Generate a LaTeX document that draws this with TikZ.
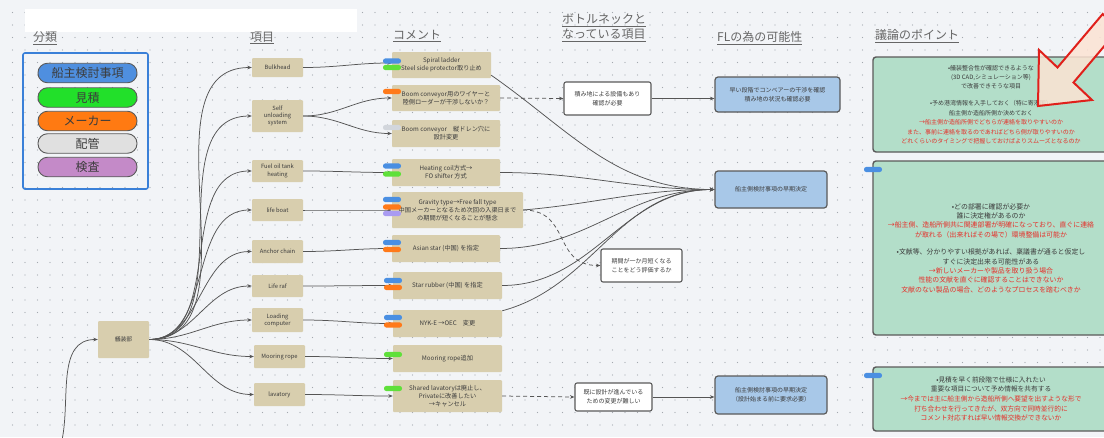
\documentclass[tikz,border=0pt]{standalone}
\usepackage{fontspec}
\setmainfont{Noto Sans CJK JP}
\usetikzlibrary{arrows.meta,calc}

\definecolor{bgc}{HTML}{F2F4F7}
\definecolor{dotc}{HTML}{A3A8AF}
\definecolor{tanc}{HTML}{D8CEAE}
\definecolor{flc}{HTML}{A8C8E8}
\definecolor{gpc}{HTML}{B3DEC9}
\definecolor{edgec}{HTML}{5A5A5A}
\definecolor{linec}{HTML}{555555}
\definecolor{hdc}{HTML}{666666}
\definecolor{txc}{HTML}{3C3C3C}
\definecolor{redt}{HTML}{E5302A}
\definecolor{tblue}{HTML}{4A8FE2}
\definecolor{tgreen}{HTML}{5FE03A}
\definecolor{torange}{HTML}{FF7A1A}
\definecolor{tgrey}{HTML}{D2D6DC}
\definecolor{tlav}{HTML}{A99BF2}
\definecolor{lblue}{HTML}{4F8FDF}
\definecolor{lgreen}{HTML}{22E02A}
\definecolor{lorange}{HTML}{FF7A12}
\definecolor{lgrey}{HTML}{E0E0E0}
\definecolor{lpurple}{HTML}{C48AC8}
\definecolor{frameblue}{HTML}{3A80D8}
\definecolor{arrowred}{HTML}{E0201B}
\definecolor{arrowfill}{HTML}{FCE3D3}

\newcommand\tagpill[3]{\fill[#1, rounded corners=2.4] (#2-9,#3-2.6) rectangle (#2+9,#3+2.6);}

\begin{document}
\begin{tikzpicture}[x=1pt,y=-1pt,
  hdg/.style={anchor=west, text=hdc, font=\fontsize{12}{15}\selectfont, inner sep=0, align=left},
  pill/.style={draw=edgec, line width=0.9, rounded corners=9.5, minimum width=99, minimum height=19.5,
    inner sep=0, text=txc, font=\fontsize{12}{14}\selectfont},
  item/.style={fill=tanc, rounded corners=1, inner sep=1, align=center, text=txc,
    font=\fontsize{5.8}{7.2}\selectfont},
  cmt/.style={fill=tanc, rounded corners=1, inner sep=1, align=center, text=txc,
    font=\fontsize{6.2}{8}\selectfont},
  neck/.style={fill=white, draw=edgec, line width=1.1, rounded corners=2, inner sep=1, align=center,
    text=txc, font=\fontsize{6}{9}\selectfont},
  flbox/.style={fill=flc, draw=edgec, line width=1.2, rounded corners=3, inner sep=1, align=center,
    text=txc, font=\fontsize{6}{9}\selectfont},
  gbox/.style={fill=gpc, draw=edgec, line width=1.4, rounded corners=3, inner sep=1, align=center,
    text=txc},
  conn/.style={draw=linec, line width=0.75, -{Stealth[length=4.5,width=3.6]}},
  dconn/.style={conn, dash pattern=on 4 off 3}
]
\useasboundingbox (0,0) rectangle (1104,437);
\fill[bgc] (0,0) rectangle (1104,437);

% dotted canvas
\foreach \i in {1,...,88}{
  \foreach \j in {1,...,34}{
    \fill[dotc] (\i*12.5,\j*12.5) circle (0.6);
  }
}
\fill[white] (25,9) rectangle (357,32);

% column headings
\node[hdg] (h1) at (33,38) {\underline{分類}};
\node[hdg] (h2) at (250,38) {\underline{項目}};
\node[hdg] (h3) at (393,36) {\underline{コメント}};
\node[hdg] (h4) at (562,28) {\underline{ボトルネックと}\\\underline{なっている項目}};
\node[hdg] (h5) at (717,38) {\underline{FLの為の可能性}};
\node[hdg] (h6) at (875,36) {\underline{議論のポイント}};

% legend
\node[draw=frameblue, line width=1.6, rounded corners=2, minimum width=125, minimum height=136, inner sep=0]
  (legend) at (85.5,121) {};
\node[pill, fill=lblue] (lg1) at (87.5,73) {船主検討事項};
\node[pill, fill=lgreen] (lg2) at (87.5,97.5) {見積};
\node[pill, fill=lorange] (lg3) at (87.5,121) {メーカー};
\node[pill, fill=lgrey] (lg4) at (87.5,143.5) {配管};
\node[pill, fill=lpurple] (lg5) at (87.5,167) {検査};

% items
\node[item, minimum width=51, minimum height=37] (hull) at (123.5,339.5) {艤装部};
\node[item, minimum width=51, minimum height=19] (bulk) at (277.5,67.5) {Bulkhead};
\node[item, minimum width=51, minimum height=32] (selfu) at (277.5,116) {Self\\unloading\\system};
\node[item, minimum width=51, minimum height=22] (fuel) at (277.5,171) {Fuel oil tank\\heating};
\node[item, minimum width=51, minimum height=22] (lboat) at (277.5,210) {life boat};
\node[item, minimum width=51, minimum height=23] (anchor) at (277.5,251.5) {Anchor chain};
\node[item, minimum width=51, minimum height=22] (raft) at (277.5,286) {Life raf};
\node[item, minimum width=51, minimum height=24] (loadc) at (277.5,320) {Loading\\computer};
\node[item, minimum width=51, minimum height=23] (moor) at (279.5,356.5) {Mooring rope};
\node[item, minimum width=51, minimum height=23] (lav) at (279.5,394.5) {lavatory};

% comments
\node[cmt, minimum width=99, minimum height=26] (c1) at (441.5,65) {Spiral ladder\\Steel side protector取り止め};
\node[cmt, minimum width=108, minimum height=26] (c2) at (446,98) {Boom conveyor用のワイヤーと\\陸側ローダーが干渉しないか？};
\node[cmt, minimum width=108, minimum height=27] (c3) at (446,133.5) {Boom conveyor　縦ドレン穴に\\設計変更};
\node[cmt, minimum width=108, minimum height=27] (c4) at (446,172.5) {Heating coil方式→\\FO shifter 方式};
\node[cmt, minimum width=131, minimum height=36] (c5) at (457.5,210) {Gravity type→Free fall type\\中国メーカーとなるため次回の入渠日まで\\の期間が短くなることが懸念};
\node[cmt, minimum width=108, minimum height=27] (c6) at (446,248.5) {Asian star (中国) を指定};
\node[cmt, minimum width=109, minimum height=27] (c7) at (447.5,285.5) {Star rubber (中国) を指定};
\node[cmt, minimum width=109, minimum height=27] (c8) at (447.5,323.5) {NYK-E →OEC　変更};
\node[cmt, minimum width=109, minimum height=27] (c9) at (447.5,358.5) {Mooring rope追加};
\node[cmt, minimum width=109, minimum height=32] (c10) at (447.5,396) {Shared lavatoryは廃止し、\\Privateに改善したい\\→キャンセル};

% connectors: hull to items
\coordinate (feed) at (62,440);
\draw[conn] (feed) to[out=78,in=180] (hull.west);
\foreach \t in {bulk,selfu,fuel,lboat,anchor,raft,loadc,moor,lav}{
  \draw[conn] (hull.east) to[out=0,in=180] (\t.west);
}
% items to comments
\draw[conn] (bulk.east) to[out=0,in=180] ([yshift=2]c1.west);
\draw[conn] (selfu.east) to[out=0,in=180] (c2.west);
\draw[conn] (selfu.east) to[out=0,in=180] (c3.west);
\draw[conn] (fuel.east) to[out=0,in=180] (c4.west);
\draw[conn] (lboat.east) to[out=0,in=180] (c5.west);
\draw[conn] (anchor.east) to[out=0,in=180] (c6.west);
\draw[conn] (raft.east) to[out=0,in=180] (c7.west);
\draw[conn] (loadc.east) to[out=0,in=180] (c8.west);
\draw[conn] (moor.east) to[out=0,in=180] (c9.west);
\draw[conn] (lav.east) to[out=0,in=180] (c10.west);

% bottleneck boxes
\node[neck, minimum width=87, minimum height=33] (b1) at (607.5,98.5) {積み地による設備もあり\\確認が必要};
\node[neck, minimum width=81, minimum height=33] (b2) at (641.5,265.5) {期間が一か月短くなる\\ことをどう評価するか};
\node[neck, minimum width=77, minimum height=28] (b3) at (613.5,397) {既に設計が進んでいる\\ための変更が難しい};

% FL boxes
\node[flbox, minimum width=125, minimum height=35] (f1) at (777.5,94.5) {早い段階でコンベアーの干渉を確認\\積み地の状況も確認必要};
\node[flbox, minimum width=112, minimum height=37] (f2) at (771,189.5) {船主側検討事項の早期決定};
\node[flbox, minimum width=112, minimum height=38] (f3) at (771,395) {船主側検討事項の早期決定\\（設計始まる前に要求必要）};

% comments to bottlenecks and FL
\draw[conn] ($(c1.south east)+(0,-3)$) to[out=-35,in=180] (f2.west);
\draw[conn] (c4.east) to[out=0,in=180] (f2.west);
\draw[conn] (c5.east) to[out=5,in=180] (f2.west);
\draw[conn] (c6.east) to[out=0,in=180] (f2.west);
\draw[conn] (c7.east) to[out=0,in=180] (f2.west);
\draw[conn] ($(c8.north east)+(0,1)$) to[out=15,in=180] (f2.west);
\draw[dconn] (c2.east) -- (b1.west);
\draw[dconn] (c5.east) to[out=0,in=180,looseness=1.3] (b2.west);
\draw[dconn] (c10.east) -- (b3.west);
\draw[conn] (b1.east) -- (f1.west |- b1.east);
\draw[conn] (b3.east) -- (f3.west |- b3.east);

% category tags on comments
\tagpill{tblue}{392}{61}
\tagpill{tgreen}{392}{67.5}
\tagpill{torange}{392}{91.5}
\tagpill{tgrey}{392}{127.5}
\tagpill{tblue}{392}{166}
\tagpill{tgreen}{392}{174}
\tagpill{tblue}{392}{199.5}
\tagpill{torange}{392}{207}
\tagpill{tlav}{392}{213.5}
\tagpill{tblue}{392}{242.5}
\tagpill{torange}{392}{249.5}
\tagpill{tblue}{393}{280.5}
\tagpill{torange}{393}{287.5}
\tagpill{tblue}{393}{317.5}
\tagpill{torange}{393}{325}
\tagpill{tgreen}{393}{354.5}
\tagpill{tgreen}{393}{388.5}

% discussion boxes
\node[gbox, minimum width=236, minimum height=95, font=\fontsize{6}{9.4}\selectfont] (g1) at (991,104.5) {%
•艤装整合性が確認できるような\\
(3D CAD,シミュレーション等)\\
で改善できそうな項目\\[7.5]
•予め港湾情報を入手しておく（特に寄港国）\\
船主側か造船所側か決めておく\\
\textcolor{redt}{→船主側か造船所側でどちらが連絡を取りやすいのか}\\
\textcolor{redt}{また、事前に連絡を取るのであればどちら側が取りやすいのか}\\
\textcolor{redt}{どれくらいのタイミングで把握しておけばよりスムーズとなるのか}};
\node[gbox, minimum width=236, minimum height=174, font=\fontsize{6.9}{9.4}\selectfont] (g2) at (991,248) {%
•どの部署に確認が必要か\\
誰に決定権があるのか\\
\textcolor{redt}{→船主側、造船所側共に関連部署が明確になっており、直ぐに連絡}\\
\textcolor{redt}{が取れる（出来ればその場で）環境整備は可能か}\\[8]
•文献等、分かりやすい根拠があれば、稟議書が通ると仮定し\\
すぐに決定出来る可能性がある\\
\textcolor{redt}{→新しいメーカーや製品を取り扱う場合}\\
\textcolor{redt}{性能の文献を直ぐに確認することはできないか}\\
\textcolor{redt}{文献のない製品の場合、どのようなプロセスを踏むべきか}};
\node[gbox, minimum width=236, minimum height=64, font=\fontsize{6.7}{9.6}\selectfont] (g3) at (991,399) {%
•見積を早く前段階で仕様に入れたい\\
重要な項目について予め情報を共有する\\
\textcolor{redt}{→今までは主に船主側から造船所側へ要望を出すような形で}\\
\textcolor{redt}{打ち合わせを行ってきたが、双方向で同時並行的に}\\
\textcolor{redt}{コメント対応すれば早い情報交換ができないか}};
\tagpill{tblue}{873}{169.5}
\tagpill{tblue}{873}{375.5}

% big pointer arrow
\draw[arrowred, line width=2, fill=arrowfill, fill opacity=0.85, line join=miter]
  (1038,106) -- (1039,50) -- (1057.5,67.5) -- (1102.7,14) -- (1118.7,29)
  -- (1073.5,82.5) -- (1092,100) -- cycle;
\end{tikzpicture}
\end{document}
